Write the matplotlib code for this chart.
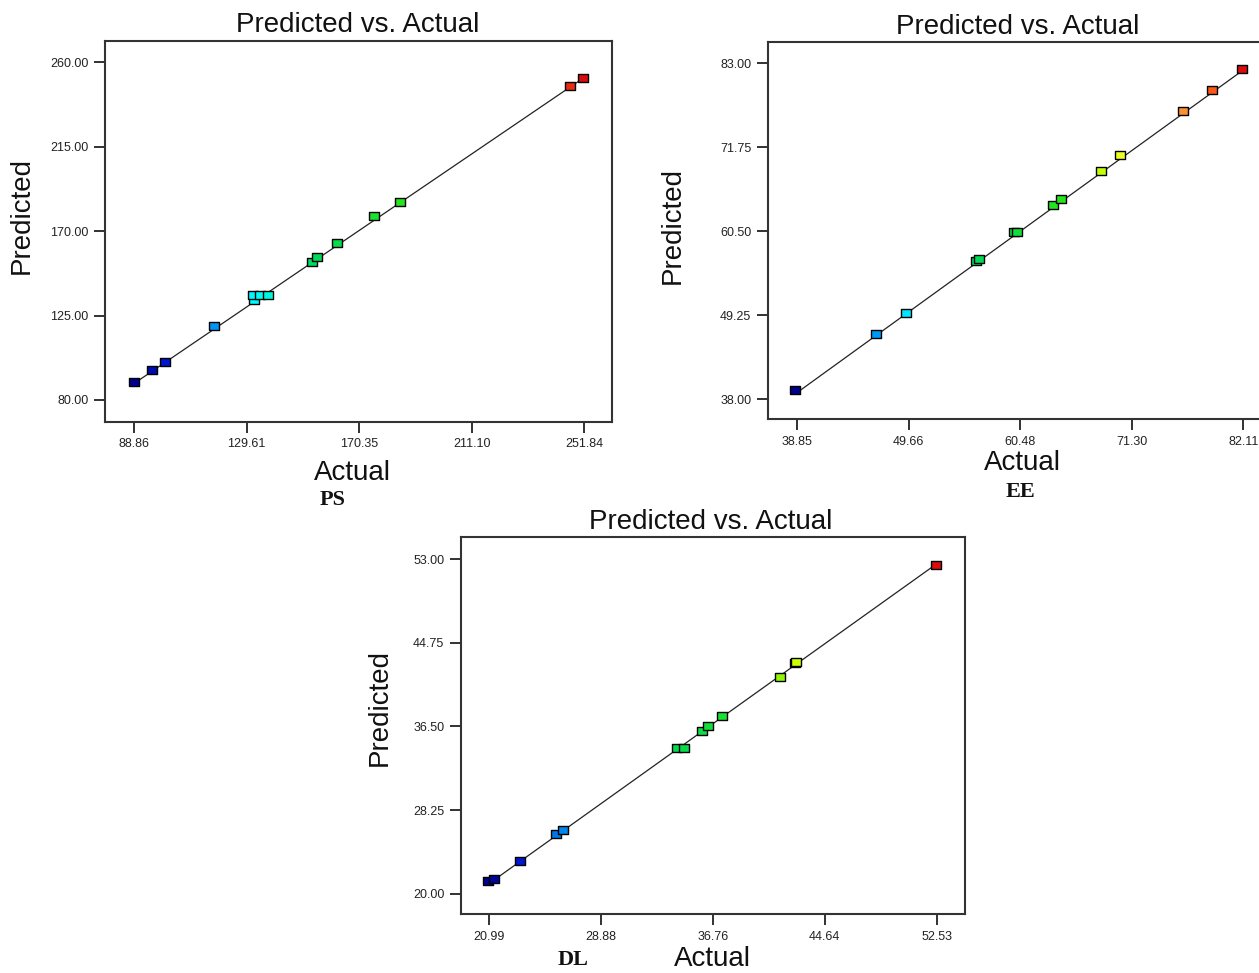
import matplotlib
matplotlib.use('Agg')

import matplotlib.pyplot as plt
from matplotlib.colors import LinearSegmentedColormap, Normalize
from matplotlib.ticker import FixedLocator, FormatStrFormatter

plt.rcParams['font.family'] = ['Liberation Sans', 'DejaVu Sans']

# PS panel
ps_actual = [88.86, 95.2, 100.1, 117.7, 132.3, 132.0, 134.4, 137.5, 153.3, 155.2,
             162.5, 175.9, 185.0, 246.8, 251.5]
ps_pred = [89.4, 96.2, 100.3, 119.6, 133.5, 135.8, 135.8, 135.8, 153.7, 156.1,
           163.9, 177.9, 185.5, 247.5, 251.6]
ps_xticks = [88.86, 129.61, 170.35, 211.10, 251.84]
ps_yticks = [80.00, 125.00, 170.00, 215.00, 260.00]

# EE panel
ee_actual = [38.7, 46.5, 49.37, 56.16, 56.5, 59.9, 60.16, 63.7, 64.47, 68.28,
             70.2, 76.28, 79.06, 82.0]
ee_pred = [39.25, 46.7, 49.57, 56.46, 56.8, 60.4, 60.39, 63.97, 64.77, 68.6,
           70.67, 76.65, 79.4, 82.2]
ee_xticks = [38.85, 49.66, 60.48, 71.30, 82.11]
ee_yticks = [38.00, 49.25, 60.50, 71.75, 83.00]

# DL panel
dl_actual = [20.9, 21.37, 23.2, 25.71, 26.19, 34.23, 34.72, 36.0, 36.44, 37.43,
             41.5, 42.55, 42.65, 52.47]
dl_pred = [21.28, 21.48, 23.22, 25.86, 26.25, 34.34, 34.34, 36.07, 36.5, 37.55,
           41.38, 42.7, 42.8, 52.43]
dl_xticks = [20.99, 28.88, 36.76, 44.64, 52.53]
dl_yticks = [20.00, 28.25, 36.50, 44.75, 53.00]

W, H = 1259, 973

spectrum = LinearSegmentedColormap.from_list('de', [
    (0.0, (0.0, 0.0, 0.55)),
    (0.08, (0.0, 0.1, 0.85)),
    (0.15, (0.0, 0.45, 0.9)),
    (0.2, (0.0, 0.7, 1.0)),
    (0.27, (0.0, 1.0, 1.0)),
    (0.4, (0.0, 0.85, 0.35)),
    (0.6, (0.15, 0.9, 0.1)),
    (0.68, (0.75, 1.0, 0.0)),
    (0.75, (1.0, 1.0, 0.2)),
    (0.86, (1.0, 0.6, 0.2)),
    (0.93, (1.0, 0.35, 0.1)),
    (1.0, (0.85, 0.05, 0.05)),
])

rect = [(-1.3, -1), (1.3, -1), (1.3, 1), (-1.3, 1), (-1.3, -1)]


def box(x0, y0, x1, y1):
    return [x0 / W, 1 - y1 / H, (x1 - x0) / W, (y1 - y0) / H]


def panel(fig, pos, actual, pred, xticks, yticks, xlim, ylim):
    ax = fig.add_axes(pos)
    lo, hi = min(actual), max(actual)
    ax.plot([lo, hi], [lo, hi], color='#222222', lw=0.9, zorder=1)
    norm = Normalize(lo, hi)
    for a, p in zip(actual, pred):
        ax.plot(a, p, marker=rect, ms=7.5, mfc=spectrum(norm(a)), mec='black',
                mew=1.0, ls='none', zorder=2)
    ax.set_xlim(*xlim)
    ax.set_ylim(*ylim)
    ax.xaxis.set_major_locator(FixedLocator(xticks))
    ax.yaxis.set_major_locator(FixedLocator(yticks))
    ax.xaxis.set_major_formatter(FormatStrFormatter('%.2f'))
    ax.yaxis.set_major_formatter(FormatStrFormatter('%.2f'))
    ax.tick_params(direction='out', length=8, width=1.3, labelsize=9,
                   colors='#222222', pad=4)
    for s in ax.spines.values():
        s.set_linewidth(1.5)
        s.set_color('#333333')
    return ax


fig = plt.figure(figsize=(W / 100, H / 100), dpi=100)

panel(fig, box(105, 41, 612, 421.7), ps_actual, ps_pred, ps_xticks, ps_yticks,
      (78.25, 261.98), (68.43, 271.35))
panel(fig, box(768, 41.7, 1266, 419), ee_actual, ee_pred, ee_xticks, ee_yticks,
      (36.04, 84.31), (35.32, 85.9))
panel(fig, box(461, 537.3, 965, 914.3), dl_actual, dl_pred, dl_xticks, dl_yticks,
      (19.02, 54.52), (17.97, 55.14))


def t(x, y, s, **kw):
    fig.text(x / W, 1 - y / H, s, ha='center', va='center', **kw)


big = dict(fontsize=20, color='#111111')
t(358, 25, 'Predicted vs. Actual', **big)
t(1018, 27, 'Predicted vs. Actual', **big)
t(711, 522, 'Predicted vs. Actual', **big)

t(22, 216, 'Predicted', rotation=90, **big)
t(673, 225, 'Predicted', rotation=90, **big)
t(380, 708, 'Predicted', rotation=90, **big)

t(352, 473, 'Actual', **big)
t(1022, 463, 'Actual', **big)
t(712, 959, 'Actual', **big)

sub = dict(fontsize=16, fontweight='bold', family='Liberation Serif', color='#111111')
t(333, 500, 'PS', **sub)
t(1020, 492, 'EE', **sub)
t(573, 960, 'DL', **sub)

fig.savefig('out.png', dpi=100)
